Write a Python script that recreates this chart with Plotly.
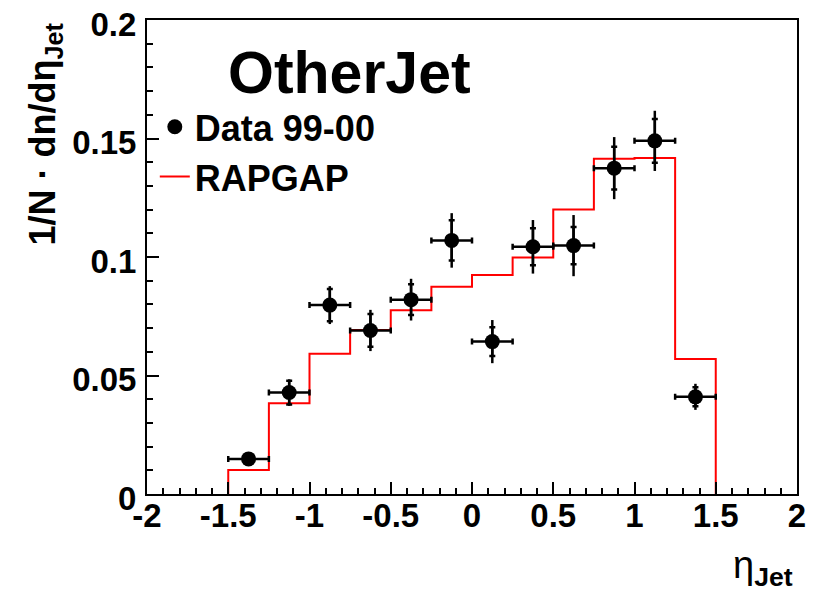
import plotly.graph_objects as go

# ---- data ----
bin_edges = [-1.5, -1.25, -1.0, -0.75, -0.5, -0.25, 0.0, 0.25, 0.5, 0.75, 1.0, 1.25, 1.5]
rapgap = [0.0101, 0.0383, 0.0592, 0.0692, 0.0775, 0.0875, 0.0924, 0.0998, 0.1200, 0.1415, 0.1418, 0.0570]

data_x = [-1.375, -1.125, -0.875, -0.625, -0.375, -0.125, 0.125, 0.375, 0.625, 0.875, 1.125, 1.375]
data_y = [0.0148, 0.0428, 0.0797, 0.0690, 0.0820, 0.1070, 0.0643, 0.1043, 0.1048, 0.1375, 0.1490, 0.0410]
data_xerr = [0.125] * 12
stat_err = [0.0020, 0.0050, 0.0068, 0.0069, 0.0065, 0.0085, 0.0061, 0.0078, 0.0079, 0.0090, 0.0092, 0.0040]
total_err = [0.0022, 0.0056, 0.0080, 0.0087, 0.0088, 0.0115, 0.0091, 0.0113, 0.0129, 0.0131, 0.0127, 0.0055]

x_tickvals = [-2, -1.5, -1, -0.5, 0, 0.5, 1, 1.5, 2]
x_ticktext = ["-2", "-1.5", "-1", "-0.5", "0", "0.5", "1", "1.5", "2"]
y_tickvals = [0, 0.05, 0.1, 0.15, 0.2]
y_ticktext = ["0", "0.05", "0.1", "0.15", "0.2"]

FONT = "Liberation Sans, Arial, Helvetica, sans-serif"

# histogram outline built from edges
hist_x = [bin_edges[0]] + bin_edges[:-1] + [bin_edges[-1]]
hist_y = [0] + rapgap + [0]

fig = go.Figure()

fig.add_trace(go.Scatter(
    x=hist_x, y=hist_y, mode="lines", line=dict(color="#ff0000", width=2, shape="hv"),
    name="<b>RAPGAP</b>", showlegend=True, legendrank=2, hoverinfo="skip",
))

# total errors (no caps)
fig.add_trace(go.Scatter(
    x=data_x, y=data_y, mode="markers", marker=dict(size=1, color="black", opacity=0),
    error_y=dict(type="data", array=total_err, visible=True, color="black", thickness=2.5, width=0),
    showlegend=False, hoverinfo="skip",
))

# data points with stat errors and x bin widths
fig.add_trace(go.Scatter(
    x=data_x, y=data_y, mode="markers", marker=dict(size=15, color="black"),
    error_y=dict(type="data", array=stat_err, visible=True, color="black", thickness=2.5, width=3),
    error_x=dict(type="data", array=data_xerr, visible=True, color="black", thickness=2.5, width=3),
    name="<b>Data 99-00</b>", legendrank=1,
))

axis_common = dict(
    showline=True, linecolor="black", linewidth=2, mirror=True,
    ticks="inside", tickcolor="black", tickwidth=2, ticklen=12,
    showgrid=False, zeroline=False, automargin=False, ticklabeloverflow="allow",
    tickfont=dict(family=FONT, size=33, color="black", weight="bold"),
)

fig.update_xaxes(
    range=[-2, 2], tickvals=x_tickvals, ticktext=x_ticktext, ticklabelstandoff=-9,
    minor=dict(dtick=0.1, tick0=0, ticks="inside", ticklen=6, tickwidth=1.5, tickcolor="black", showgrid=False),
    **axis_common,
)
fig.update_yaxes(
    range=[0, 0.2], tickvals=y_tickvals, ticktext=y_ticktext, ticklabelstandoff=2,
    ticklabelshift=4,
    minor=dict(dtick=0.01, tick0=0, ticks="inside", ticklen=6, tickwidth=1.5, tickcolor="black", showgrid=False),
    **axis_common,
)

fig.add_annotation(
    text="<b>OtherJet</b>", xref="paper", yref="paper", x=0.312, y=0.888,
    xanchor="center", yanchor="middle", showarrow=False,
    font=dict(family=FONT, size=59, color="black"),
)
fig.add_annotation(
    text="<b>1/N · dn/dη<sub>Jet</sub></b>", xref="paper", yref="paper",
    x=-0.157, y=1.0, xanchor="center", yanchor="top", textangle=-90, showarrow=False,
    font=dict(family=FONT, size=36, color="black"),
)
fig.add_annotation(
    text="η<sub><b>Jet</b></sub>", xref="paper", yref="paper",
    x=0.948, y=-0.156, xanchor="center", yanchor="middle", showarrow=False,
    font=dict(family=FONT, size=38, color="black"),
)

# page body has an 8px margin, so the figure is 8px smaller and margins shifted
fig.update_layout(
    width=812, height=583,
    margin=dict(l=139, r=23, t=12, b=97, autoexpand=False),
    paper_bgcolor="white", plot_bgcolor="white",
    showlegend=True,
    legend=dict(
        x=0.012, y=0.838, xanchor="left", yanchor="top",
        bgcolor="rgba(0,0,0,0)", borderwidth=0,
        font=dict(family=FONT, size=36, color="black"),
        itemwidth=30, tracegroupgap=0,
    ),
)

fig.write_html("out.html")
